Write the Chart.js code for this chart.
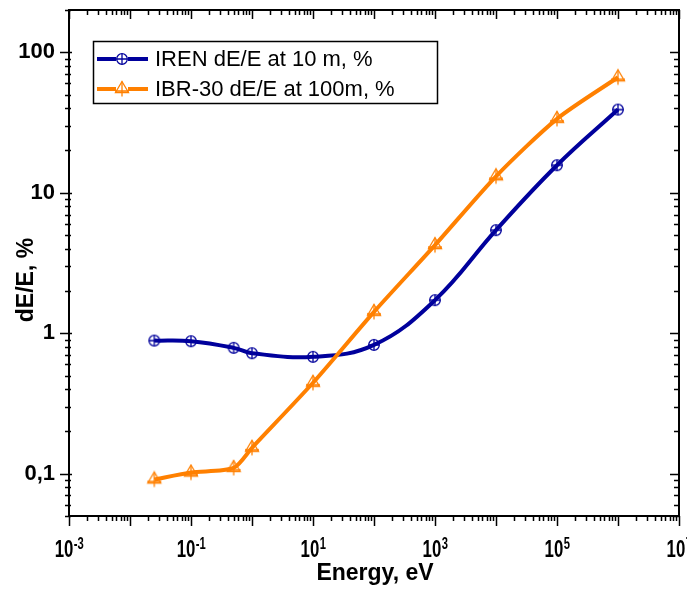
<!DOCTYPE html>
<html>
<head>
<meta charset="utf-8">
<script src="https://cdn.jsdelivr.net/npm/chart.js@4/dist/chart.umd.min.js"></script>
<style>
  html, body { margin: 0; padding: 0; background: #fff; }
  canvas { display: block; }
</style>
</head>
<body>
<canvas id="grafico" width="687" height="590"></canvas>
<script>
// --- DADOS ---
const energias = [0.025, 0.1, 0.5, 1, 10, 100, 1e3, 1e4, 1e5, 1e6];
const irenValores = [0.886, 0.877, 0.787, 0.721, 0.679, 0.826, 1.72, 5.42, 15.7, 39.1];
const ibrValores = [0.091, 0.102, 0.110, 0.153, 0.444, 1.42, 4.24, 13.1, 33.6, 66.4];
const rotulosSerie = ["IREN dE/E at 10 m, %", "IBR-30 dE/E at 100m, %"];
const xExpoentes = [-3, -1, 1, 3, 5, 7];
const yTicks = [0.1, 1, 10, 100];
const yRotulos = ["0,1", "1", "10", "100"];
const tituloX = "Energy, eV";
const tituloY = "dE/E, %";

const AZUL = "#00009c";
const LARANJA = "#ff8000";
const FONTE = '"Liberation Sans", Arial, sans-serif';
const ESC = 0.7; // rótulos do eixo x são estreitos

// --- MARCADORES ---
function marcadorCirculo(cor) {
    const c = document.createElement("canvas");
    c.width = 16; c.height = 16;
    const g = c.getContext("2d");
    g.strokeStyle = cor; g.lineWidth = 1.3;
    g.beginPath(); g.arc(8, 8, 5.3, 0, Math.PI * 2); g.stroke();
    g.beginPath();
    g.moveTo(2.7, 8); g.lineTo(13.3, 8);
    g.moveTo(8, 2.7); g.lineTo(8, 13.3);
    g.stroke();
    return c;
}

function marcadorTriangulo(cor) {
    const c = document.createElement("canvas");
    c.width = 18; c.height = 18;
    const g = c.getContext("2d");
    g.strokeStyle = cor; g.lineWidth = 1.3;
    g.beginPath();
    g.moveTo(9, 1.5); g.lineTo(15.5, 12.5); g.lineTo(2.5, 12.5); g.closePath();
    g.stroke();
    g.beginPath();
    g.moveTo(2, 11); g.lineTo(16, 11);
    g.moveTo(9, 1.5); g.lineTo(9, 16.5);
    g.stroke();
    return c;
}

const mkAzul = marcadorCirculo(AZUL);
const mkLaranja = marcadorTriangulo(LARANJA);

// --- MOLDURA, TICKS, RÓTULOS E LEGENDA ---
const molduraPlugin = {
    id: "moldura",
    afterDraw(chart) {
        const { ctx, chartArea: a, scales: { x, y } } = chart;
        ctx.save();
        ctx.strokeStyle = "#000";
        ctx.fillStyle = "#000";

        // ticks do eixo x (baixo para fora, topo para dentro)
        ctx.lineWidth = 1.5;
        ctx.beginPath();
        for (let e = -3; e <= 7; e++) {
            for (let m = 1; m <= 9; m++) {
                if (e === 7 && m > 1) break;
                const px = Math.round(x.getPixelForValue(m * Math.pow(10, e))) + 0.5;
                const maior = m === 1;
                ctx.moveTo(px, a.bottom); ctx.lineTo(px, a.bottom + (maior ? 10 : 5));
                ctx.moveTo(px, a.top); ctx.lineTo(px, a.top + (maior ? 9 : 5));
            }
        }
        // ticks do eixo y (esquerda cruzando, direita para dentro)
        for (let e = -2; e <= 2; e++) {
            for (let m = 1; m <= 9; m++) {
                const v = m * Math.pow(10, e);
                if (v < y.min || v > y.max) continue;
                const py = Math.round(y.getPixelForValue(v)) + 0.5;
                const maior = m === 1;
                ctx.moveTo(a.left - (maior ? 9 : 4), py); ctx.lineTo(a.left + (maior ? 3 : 2), py);
                ctx.moveTo(a.right, py); ctx.lineTo(a.right - (maior ? 9 : 5), py);
            }
        }
        ctx.stroke();

        // moldura
        ctx.lineWidth = 2;
        ctx.strokeRect(a.left, a.top, a.right - a.left, a.bottom - a.top);

        // rótulos y
        ctx.font = "bold 22px " + FONTE;
        ctx.textAlign = "right";
        ctx.textBaseline = "alphabetic";
        yTicks.forEach((v, i) => {
            ctx.fillText(yRotulos[i], a.left - 14, y.getPixelForValue(v) + 6);
        });

        // rótulos x (10 com expoente)
        ctx.textAlign = "left";
        xExpoentes.forEach(ex => {
            const cx = x.getPixelForValue(Math.pow(10, ex));
            ctx.font = "bold 24px " + FONTE;
            const wb = ctx.measureText("10").width * ESC;
            ctx.font = "bold 16px " + FONTE;
            const txtExp = String(ex);
            const we = ctx.measureText(txtExp).width * ESC;
            const x0 = cx - (wb + we) / 2;
            ctx.save();
            ctx.translate(x0, a.bottom + 41);
            ctx.scale(ESC, 1);
            ctx.font = "bold 24px " + FONTE;
            ctx.fillText("10", 0, 0);
            ctx.restore();
            ctx.save();
            ctx.translate(x0 + wb + 0.5, a.bottom + 33);
            ctx.scale(ESC, 1);
            ctx.font = "bold 16px " + FONTE;
            ctx.fillText(txtExp, 0, 0);
            ctx.restore();
        });

        // títulos
        ctx.font = "bold 23px " + FONTE;
        ctx.textAlign = "center";
        ctx.fillText(tituloX, (a.left + a.right) / 2 + 1, a.bottom + 64);
        ctx.save();
        ctx.translate(33, 280);
        ctx.rotate(-Math.PI / 2);
        ctx.fillText(tituloY, 0, 0);
        ctx.restore();

        // legenda
        ctx.fillStyle = "#fff";
        ctx.fillRect(93.5, 41.5, 344, 62);
        ctx.lineWidth = 1.5;
        ctx.strokeStyle = "#000";
        ctx.strokeRect(93.5, 41.5, 344, 62);
        const itens = [
            { cor: AZUL, mk: mkAzul, yl: 59 },
            { cor: LARANJA, mk: mkLaranja, yl: 89 }
        ];
        ctx.font = "22px " + FONTE;
        ctx.textAlign = "left";
        itens.forEach((it, i) => {
            ctx.strokeStyle = it.cor;
            ctx.lineWidth = 4;
            ctx.beginPath();
            ctx.moveTo(97, it.yl); ctx.lineTo(148, it.yl);
            ctx.stroke();
            ctx.fillStyle = "#fff";
            ctx.fillRect(116, it.yl - 2.5, 12, 5);
            ctx.drawImage(it.mk, 122 - it.mk.width / 2, it.yl - it.mk.height / 2);
            ctx.fillStyle = "#000";
            ctx.fillText(rotulosSerie[i], 155, it.yl + 6.5);
        });
        ctx.restore();
    }
};

// --- GRÁFICO ---
new Chart(document.getElementById("grafico"), {
    type: "line",
    data: {
        labels: energias,
        datasets: [
            {
                label: rotulosSerie[0],
                data: energias.map((e, i) => ({ x: e, y: irenValores[i] })),
                borderColor: AZUL,
                backgroundColor: AZUL,
                borderWidth: 4,
                pointStyle: mkAzul,
                tension: 0.4,
                order: 1
            },
            {
                label: rotulosSerie[1],
                data: energias.map((e, i) => ({ x: e, y: ibrValores[i] })),
                borderColor: LARANJA,
                backgroundColor: LARANJA,
                borderWidth: 4,
                pointStyle: mkLaranja,
                tension: 0.25,
                order: 0
            }
        ]
    },
    options: {
        responsive: false,
        animation: false,
        layout: { padding: { left: 69, right: 8, top: 10, bottom: 74 } },
        plugins: { legend: { display: false }, tooltip: { enabled: false } },
        scales: {
            x: { type: "logarithmic", min: 1e-3, max: 1e7, display: false },
            y: { type: "logarithmic", min: 0.05, max: 200, display: false }
        }
    },
    plugins: [molduraPlugin]
});
</script>
</body>
</html>
